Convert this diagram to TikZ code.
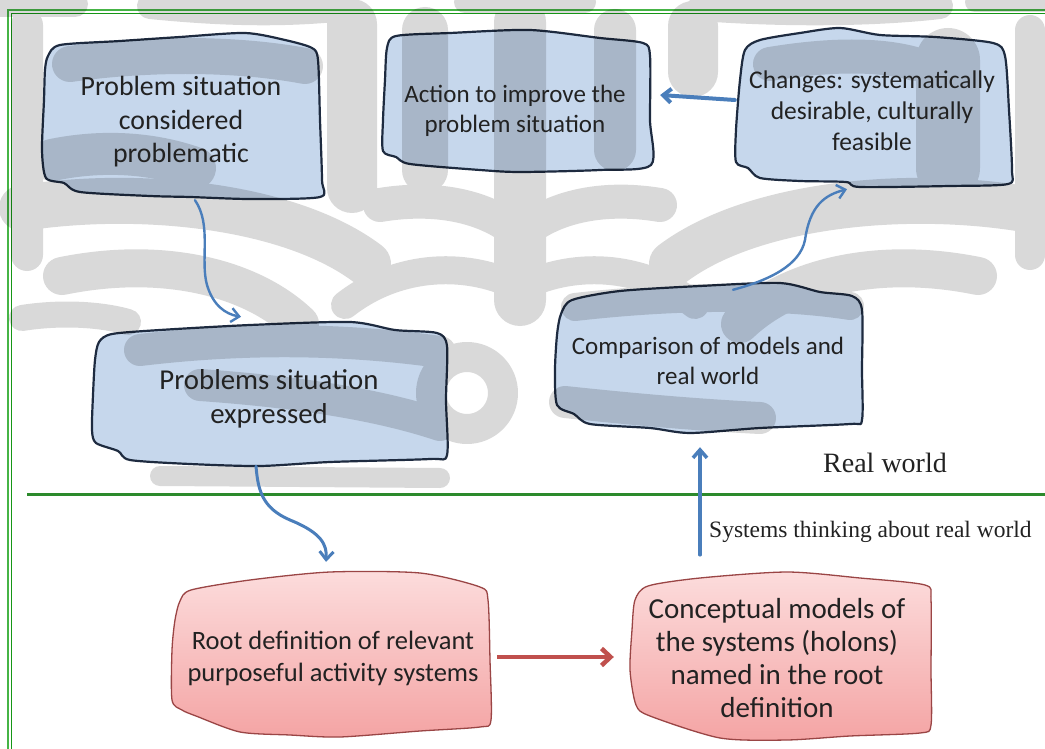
\documentclass[tikz,border=0pt]{standalone}
\usepackage{fontspec}
\setmainfont{Carlito}
\newfontfamily\timesfont{Liberation Serif}
\usetikzlibrary{arrows.meta,calc}

\definecolor{boxblue}{HTML}{C6D7EC}
\definecolor{boxline}{HTML}{1E2B40}
\definecolor{pinktop}{HTML}{FCDCDC}
\definecolor{pinkbot}{HTML}{F4A4A4}
\definecolor{pinkline}{HTML}{9A4545}
\definecolor{arrowblue}{HTML}{4A7EBB}
\definecolor{arrowred}{HTML}{C0504D}
\definecolor{frameout}{HTML}{46B446}
\definecolor{framein}{HTML}{169616}
\definecolor{divider}{HTML}{2C8A2C}
\definecolor{inktext}{HTML}{222222}

\begin{document}
\begin{tikzpicture}[x=1pt,y=-1pt,
  bluebox/.style={draw=boxline, line width=2.2pt, fill=boxblue, line join=round},
  pinkbox/.style={draw=pinkline, line width=1.3pt, top color=pinktop, bottom color=pinkbot, line join=round},
  label/.style={align=center, text=inktext, inner sep=0pt},
  flow/.style={draw=arrowblue, line width=#1, line cap=round,
    -{Straight Barb[length=8pt,width=14pt,line width=#1]}},
  flowred/.style={draw=arrowred, line width=4.5pt,
    -{Straight Barb[length=9pt,width=17pt,line width=4.5pt]}},
  serif/.style={text=inktext, inner sep=0pt, font=\timesfont},
  emblem/.style={draw=black, line cap=round, line join=round}]

\useasboundingbox (0,0) rectangle (1045,749);
\fill[white] (0,0) rectangle (1045,749);

% page frame (double line) and the real-world divider
\draw[frameout, line width=1.3pt] (8,760) -- (8,10) -- (1060,10);
\draw[framein, line width=1.8pt] (11.5,760) -- (11.5,13.5) -- (1060,13.5);
\draw[divider, line width=3pt] (27,494) -- (1045,494);

% hand-drawn outlines of the boxes
\draw[bluebox] plot[smooth cycle, tension=0.45] coordinates {
  (48,56) (60,45) (120,41) (180,37) (245,33) (285,40) (312,48) (318,60)
  (320,120) (322,180) (320,197) (250,199) (190,197) (150,196) (80,192)
  (64,183) (46,178) (42,150) (44,100) (45,70)};
\draw[bluebox] plot[smooth cycle, tension=0.45] coordinates {
  (387,48) (396,36) (450,33) (530,30) (600,38) (643,43) (650,56)
  (650,120) (651,165) (600,170) (520,172) (480,170) (410,164) (396,157)
  (383,151) (383,120) (385,80)};
\draw[bluebox] plot[smooth cycle, tension=0.45] coordinates {
  (745,50) (760,40) (800,33) (840,28) (880,35) (935,37) (993,43) (1005,56)
  (1009,110) (1012,170) (1008,184) (950,186) (860,187) (846,182) (800,181)
  (760,178) (748,168) (736,162) (736,130) (740,80)};
\draw[bluebox] plot[smooth cycle, tension=0.45] coordinates {
  (99,342) (112,334) (160,330) (250,325) (350,322) (395,330) (437,333)
  (447,346) (446,400) (447,455) (430,459) (330,462) (260,466) (190,464)
  (130,460) (118,451) (96,443) (92,430) (93,395) (95,360)};
\draw[bluebox] plot[smooth cycle, tension=0.45] coordinates {
  (561,314) (572,300) (620,291) (700,286) (780,283) (820,292) (852,296)
  (862,310) (862,370) (862,420) (850,424) (760,428) (690,433) (650,428)
  (590,424) (574,414) (557,405) (555,370) (557,335)};
\draw[pinkbox] plot[smooth cycle, tension=0.45] coordinates {
  (180,601) (191,590) (250,580) (330,572) (420,573) (480,587) (488,600)
  (490,660) (491,720) (480,727) (420,731) (340,737) (290,735) (240,732)
  (196,716) (182,710) (172,700) (172,650) (175,620)};
\draw[pinkbox] plot[smooth cycle, tension=0.45] coordinates {
  (635,600) (648,586) (700,578) (787,572) (860,578) (925,585) (931,600)
  (931,670) (931,725) (920,733) (850,736) (787,740) (720,738) (650,716)
  (636,705) (630,670) (632,630)};

% faint emblem printed across the upper half of the page
\begin{scope}[transparency group, opacity=0.15]
  % crown along the top edge
  \draw[emblem, line width=26pt] (-10,4) -- (75,4);
  \draw[emblem, line width=26pt] (150,6) .. controls (230,14) and (290,14) .. (345,8);
  \draw[emblem, line width=22pt] (465,2) -- (585,2);
  \draw[emblem, line width=26pt] (700,8) .. controls (780,14) and (870,14) .. (940,6);
  \draw[emblem, line width=20pt] (975,2) -- (1050,2);
  % outer flanks and the gaps between the top boxes
  \draw[emblem, line width=32pt] (27,25) -- (27,255);
  \draw[emblem, line width=30pt] (1030,30) -- (1030,255);
  \draw[emblem, line width=50pt] (352,24) -- (352,188);
  \draw[emblem, line width=50pt] (693,26) -- (693,72);
  % upper bands crossing the left and right boxes
  \draw[emblem, line width=36pt] (70,64) .. controls (140,54) and (230,52) .. (305,66);
  \draw[emblem, line width=42pt] (52,160) .. controls (100,150) and (150,152) .. (195,168);
  \draw[emblem, line width=34pt] (770,64) .. controls (830,54) and (880,54) .. (915,64);
  \draw[emblem, line width=64pt] (948,60) -- (948,168);
  % central columns
  \draw[emblem, line width=46pt] (425,30) -- (425,170);
  \draw[emblem, line width=52pt] (520,22) -- (520,300);
  \draw[emblem, line width=42pt] (615,30) -- (615,150);
  % wings below the top row
  \draw[emblem, line width=46pt] (22,208) .. controls (140,190) and (290,205) .. (368,264);
  \draw[emblem, line width=38pt] (62,276) .. controls (160,256) and (250,276) .. (300,324);
  \draw[emblem, line width=46pt] (1018,208) .. controls (900,190) and (750,205) .. (672,264);
  \draw[emblem, line width=38pt] (978,276) .. controls (880,256) and (790,276) .. (740,324);
  \draw[emblem, line width=34pt] (380,205) .. controls (440,195) and (490,208) .. (520,235)
    .. controls (550,208) and (600,195) .. (660,205);
  \draw[emblem, line width=28pt] (345,305) .. controls (400,262) and (470,262) .. (520,288)
    .. controls (570,262) and (640,262) .. (695,305);
  % lower part around the middle boxes
  \draw[emblem, line width=26pt] (22,318) .. controls (60,312) and (100,314) .. (128,322);
  \draw[emblem, line width=30pt] (467,393) circle[radius=36pt];
  \draw[emblem, line width=32pt] (140,350) .. controls (240,338) and (340,338) .. (440,352);
  \draw[emblem, line width=32pt] (200,385) .. controls (300,392) and (380,405) .. (440,425);
  \draw[emblem, line width=20pt] (160,476) -- (440,478);
  \draw[emblem, line width=28pt] (575,307) .. controls (680,295) and (780,295) .. (850,306);
  \draw[emblem, line width=32pt] (565,402) .. controls (640,410) and (700,415) .. (760,418);
\end{scope}

% box texts
\node[label, minimum width=278pt, minimum height=160pt, font=\fontsize{27.8}{33.5}\selectfont]
  (sit) at (181,122) {Problem situation\\considered\\problematic};
\node[label, minimum width=266pt, minimum height=138pt, font=\fontsize{25}{30}\selectfont]
  (act) at (515,111) {Action to improve the\\problem situation};
\node[label, minimum width=272pt, minimum height=150pt, font=\fontsize{25.5}{31}\selectfont]
  (chg) at (872,111) {Changes: systematically\\desirable, culturally\\feasible};
\node[label, minimum width=352pt, minimum height=130pt, font=\fontsize{28.8}{34}\selectfont]
  (exp) at (269,399) {Problems situation\\expressed};
\node[label, minimum width=305pt, minimum height=138pt, font=\fontsize{25}{30}\selectfont]
  (cmp) at (708,361) {Comparison of models and\\real world};
\node[label, minimum width=316pt, minimum height=158pt, font=\fontsize{26.5}{32}\selectfont]
  (rd) at (333,658) {Root definition of relevant\\purposeful activity systems};
\node[label, minimum width=296pt, minimum height=164pt, font=\fontsize{29}{33}\selectfont]
  (cm) at (777,658) {Conceptual models of\\the systems (holons)\\named in the root\\definition};

% plain labels
\node[serif, font=\timesfont\fontsize{28}{30}\selectfont, anchor=base west] (rw) at (823,472) {Real world};
\node[serif, font=\timesfont\fontsize{23.5}{26}\selectfont, anchor=base west] (st) at (709,537) {Systems thinking about real world};

% connectors
\draw[flow=2.4pt] ($(sit.south)+(14,-2)$) .. controls (212,225) and (200,260) .. (207,285)
  .. controls (213,305) and (225,314) .. ($(exp.north)+(-28,-17)$);
\draw[flow=3pt] ($(exp.south)+(-13,2)$) .. controls (258,490) and (262,508) .. (290,520)
  .. controls (322,533) and (327,545) .. ($(rd.north)+(-7,-17)$);
\draw[flowred] ($(rd.east)+(6,-1)$) -- ($(cm.west)+(-15,-1)$);
\draw[flow=3.5pt] ($(cm.north)+(-77,-21)$) -- ($(cmp.south)+(-8,17)$);
\draw[flow=2.4pt] ($(cmp.north)+(25,-2)$) .. controls (770,280) and (800,265) .. (805,240)
  .. controls (810,205) and (825,195) .. ($(chg.south)+(-25,3)$);
\draw[flow=4pt] ($(chg.west)+(-1,-11)$) -- ($(act.east)+(12,-16)$);
\end{tikzpicture}
\end{document}
